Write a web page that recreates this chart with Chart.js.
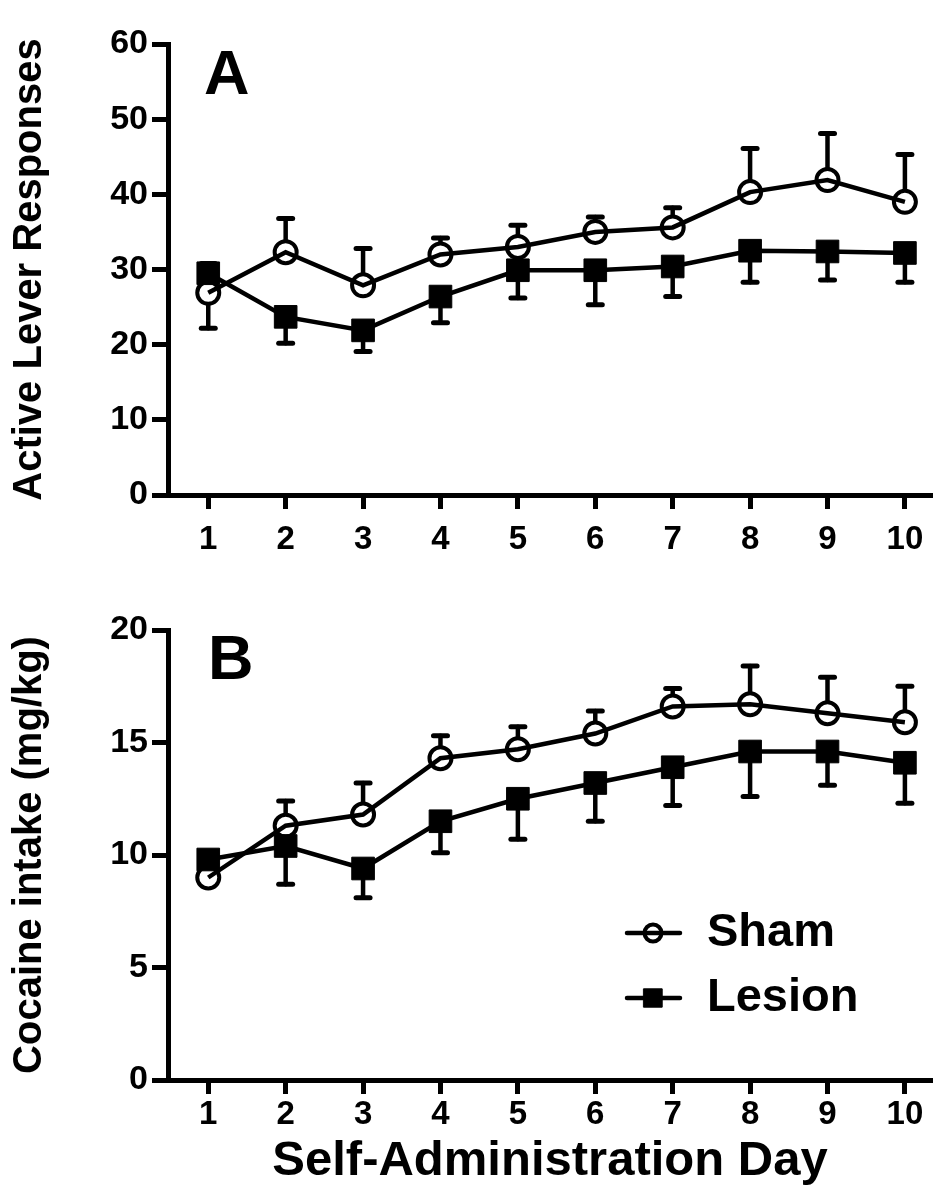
<!doctype html>
<html lang="en">
<head>
  <meta charset="utf-8">
  <title>Cocaine self-administration</title>
  <script src="https://cdn.jsdelivr.net/npm/chart.js@4.4.0/dist/chart.umd.min.js"></script>
  <style>
    html, body { margin: 0; padding: 0; background: #fff; overflow: hidden; }
    .panel { position: absolute; left: 0; width: 934px; }
    #panelA { top: 0; height: 580px; }
    #panelB { top: 580px; height: 623px; }
    canvas { display: block; }
  </style>
</head>
<body>
  <div class="panel" id="panelA"><canvas id="chartA"></canvas></div>
  <div class="panel" id="panelB"><canvas id="chartB"></canvas></div>

  <script>
    // data
    const days = [1, 2, 3, 4, 5, 6, 7, 8, 9, 10];
    const yTicksA = [0, 10, 20, 30, 40, 50, 60];
    const yTicksB = [0, 5, 10, 15, 20];

    // A: active lever responses (mean, and where the error bar ends)
    const shamA      = [26.9, 32.3, 27.9, 32.0, 33.0, 35.0, 35.6, 40.3, 41.9, 39.0];
    const shamEndA   = [22.2, 36.8, 32.8, 34.2, 35.9, 37.0, 38.2, 46.1, 48.1, 45.3];
    const lesionA    = [29.5, 23.7, 21.9, 26.4, 29.9, 29.9, 30.4, 32.5, 32.4, 32.2];
    const lesionEndA = [30.8, 20.2, 19.1, 22.9, 26.2, 25.3, 26.4, 28.3, 28.6, 28.3];

    // B: cocaine intake (mg/kg)
    const shamB      = [9.0, 11.3, 11.8, 14.3, 14.7, 15.4, 16.6, 16.7, 16.3, 15.9];
    const shamEndB   = [8.7, 12.4, 13.2, 15.3, 15.7, 16.4, 17.4, 18.4, 17.9, 17.5];
    const lesionB    = [9.8, 10.4, 9.4, 11.5, 12.5, 13.2, 13.9, 14.6, 14.6, 14.1];
    const lesionEndB = [10.1, 8.7, 8.1, 10.1, 10.7, 11.5, 12.2, 12.6, 13.1, 12.3];

    const FONT = '"Liberation Sans", Arial, Helvetica, sans-serif';
    const SHAM_R = 11;
    const LESION_R = 16;

    // one-sided SEM bars, starting at the marker edge
    const errorBars = {
      id: 'errorBars',
      beforeDatasetsDraw(chart, args, opts) {
        const ctx = chart.ctx;
        const xs = chart.scales.x, ys = chart.scales.y;
        ctx.save();
        ctx.strokeStyle = '#000';
        ctx.lineCap = 'round';
        opts.ends.forEach(function(ends, di) {
          const data = chart.data.datasets[di].data;
          const gap = opts.gaps[di];
          ends.forEach(function(e, i) {
            const px = xs.getPixelForValue(days[i]);
            const py = ys.getPixelForValue(data[i]);
            const pe = ys.getPixelForValue(e);
            if (Math.abs(pe - py) <= gap) return;
            const dir = pe < py ? -1 : 1;
            ctx.lineWidth = 4.5;
            ctx.beginPath();
            ctx.moveTo(px, py + dir * gap);
            ctx.lineTo(px, pe);
            ctx.stroke();
            ctx.lineWidth = 5;
            ctx.beginPath();
            ctx.moveTo(px - 7, pe);
            ctx.lineTo(px + 7, pe);
            ctx.stroke();
          });
        });
        ctx.restore();
      }
    };

    // panel letter and the in-plot legend
    const panelText = {
      id: 'panelText',
      afterDraw(chart, args, opts) {
        const ctx = chart.ctx;
        ctx.save();
        ctx.fillStyle = '#000';
        ctx.textBaseline = 'alphabetic';
        ctx.font = 'bold 63px ' + FONT;
        ctx.fillText(opts.letter, opts.letterX, opts.letterY);
        if (opts.legend) {
          const items = [
            { text: 'Sham', y: 353, ds: chart.data.datasets[0] },
            { text: 'Lesion', y: 418, ds: chart.data.datasets[1] }
          ];
          items.forEach(function(it) {
            ctx.strokeStyle = '#000';
            ctx.lineWidth = 4.5;
            ctx.lineCap = 'round';
            ctx.beginPath();
            ctx.moveTo(627, it.y);
            ctx.lineTo(680, it.y);
            ctx.stroke();
            ctx.fillStyle = it.ds.pointBackgroundColor;
            ctx.lineWidth = it.ds.pointBorderWidth;
            Chart.helpers.drawPoint(ctx, {
              pointStyle: it.ds.pointStyle,
              radius: it.ds.pointStyle === 'rect' ? 13 : 8.5,
              borderWidth: it.ds.pointBorderWidth,
              rotation: 0
            }, 653, it.y);
            ctx.fillStyle = '#000';
            ctx.font = 'bold 47px ' + FONT;
            ctx.fillText(it.text, 707, it.y + 13);
          });
        }
        ctx.restore();
      }
    };

    function drawPanel(canvasId, sham, shamEnd, lesion, lesionEnd, yTicks, yMax, yTitle, opts) {
      const data = {
        labels: days,
        datasets: [{
          label: 'Sham',
          data: sham,
          borderColor: '#000',
          backgroundColor: 'rgba(0,0,0,0)',
          borderWidth: 4.5,
          pointStyle: 'circle',
          pointRadius: SHAM_R,
          pointBorderWidth: 4,
          pointBackgroundColor: 'rgba(0,0,0,0)',
          pointBorderColor: '#000',
          tension: 0
        }, {
          label: 'Lesion',
          data: lesion,
          borderColor: '#000',
          backgroundColor: '#000',
          borderWidth: 4.5,
          pointStyle: 'rect',
          pointRadius: LESION_R,
          pointBorderWidth: 1,
          pointBackgroundColor: '#000',
          pointBorderColor: '#000',
          tension: 0
        }]
      };

      const config = {
        type: 'line',
        data: data,
        options: {
          responsive: true,
          maintainAspectRatio: false,
          animation: false,
          layout: {
            autoPadding: false,
            padding: { top: opts.top, right: 2, left: 0, bottom: 0 }
          },
          plugins: {
            legend: { display: false },
            tooltip: { enabled: false },
            errorBars: { ends: [shamEnd, lesionEnd], gaps: [SHAM_R + 1, 0] },
            panelText: opts.text
          },
          scales: {
            x: {
              type: 'linear',
              min: 0.48,
              max: 10.35,
              afterBuildTicks: function(scale) {
                scale.ticks = days.map(function(d) { return { value: d }; });
              },
              afterFit: function(scale) {
                scale.height = opts.xHeight;
                scale.paddingLeft = 0;
                scale.paddingRight = 0;
              },
              border: { display: true, color: '#000', width: 5 },
              grid: { drawOnChartArea: false, drawTicks: true, tickLength: 14, tickWidth: 5, tickColor: '#000' },
              ticks: {
                color: '#000',
                padding: opts.xPad,
                maxRotation: 0,
                font: { family: FONT, size: 33, weight: 'bold' }
              },
              title: opts.xTitle ? {
                display: true,
                text: opts.xTitle,
                color: '#000',
                padding: { top: 0, bottom: 12 },
                font: { family: FONT, size: 49, weight: 'bold' }
              } : { display: false }
            },
            y: {
              min: 0,
              max: yMax,
              afterBuildTicks: function(scale) {
                scale.ticks = yTicks.map(function(v) { return { value: v }; });
              },
              afterFit: function(scale) { scale.width = 168; },
              border: { display: true, color: '#000', width: 5 },
              grid: { drawOnChartArea: false, drawTicks: true, tickLength: 16, tickWidth: 5, tickColor: '#000' },
              ticks: {
                color: '#000',
                padding: 4,
                font: { family: FONT, size: 34, weight: 'bold' }
              },
              title: {
                display: true,
                text: yTitle,
                color: '#000',
                padding: { top: 6, bottom: 0 },
                font: { family: FONT, size: 40, weight: 'bold' }
              }
            }
          }
        },
        plugins: [errorBars, panelText]
      };

      return new Chart(document.getElementById(canvasId), config);
    }

    drawPanel('chartA', shamA, shamEndA, lesionA, lesionEndA, yTicksA, 60, 'Active Lever Responses', {
      top: 44, xHeight: 85, xPad: 11, xTitle: null,
      text: { letter: 'A', letterX: 204, letterY: 94, legend: false }
    });

    drawPanel('chartB', shamB, shamEndB, lesionB, lesionEndB, yTicksB, 20, 'Cocaine intake (mg/kg)', {
      top: 50, xHeight: 123, xPad: 1, xTitle: 'Self-Administration Day',
      text: { letter: 'B', letterX: 208, letterY: 99, legend: true }
    });
  </script>
</body>
</html>
